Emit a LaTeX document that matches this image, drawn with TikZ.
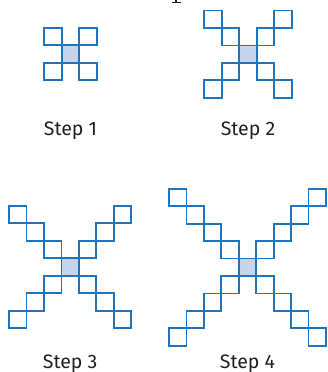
\documentclass[tikz,border=0pt]{standalone}
\usepackage{fontspec}
\setmainfont{Fira Sans}
\definecolor{cellblue}{HTML}{1F74C0}
\definecolor{cellfill}{HTML}{C6D4EE}
\definecolor{textgray}{HTML}{231F20}
\begin{document}
\begin{tikzpicture}[x=1pt,y=-1pt,
  cell/.style={draw=cellblue,line width=1.8pt,minimum size=17.45pt,inner sep=0pt,outer sep=0pt},
  core/.style={cell,fill=cellfill},
  steplabel/.style={font=\fontsize{19.5}{22}\selectfont,text=textgray,anchor=base,inner sep=0pt}]
\useasboundingbox (0,0) rectangle (327,372);
\def\s{17.45}
\foreach \n/\cx/\cy in {1/70.5/54, 2/248/54.2, 3/70.2/267, 4/247.5/267.3}{
  \node[core] (c\n) at (\cx,\cy) {};
  \foreach \k in {1,...,\n}{
    \node[cell] (a\n-ne-\k) at (\cx+\k*\s,\cy-\k*\s) {};
    \node[cell] (a\n-nw-\k) at (\cx-\k*\s,\cy-\k*\s) {};
    \node[cell] (a\n-se-\k) at (\cx+\k*\s,\cy+\k*\s) {};
    \node[cell] (a\n-sw-\k) at (\cx-\k*\s,\cy+\k*\s) {};
  }
}
\node[steplabel] (l1) at (70.5,135) {Step 1};
\node[steplabel] (l2) at (248,135) {Step 2};
\node[steplabel] (l3) at (70.2,368.3) {Step 3};
\node[steplabel] (l4) at (247.5,368.3) {Step 4};
% cut-off glyph fragment at the top edge
\fill[textgray] (175,0) rectangle (177.3,2.2);
\fill[textgray] (172,2) rectangle (180.5,3.2);
\end{tikzpicture}
\end{document}
